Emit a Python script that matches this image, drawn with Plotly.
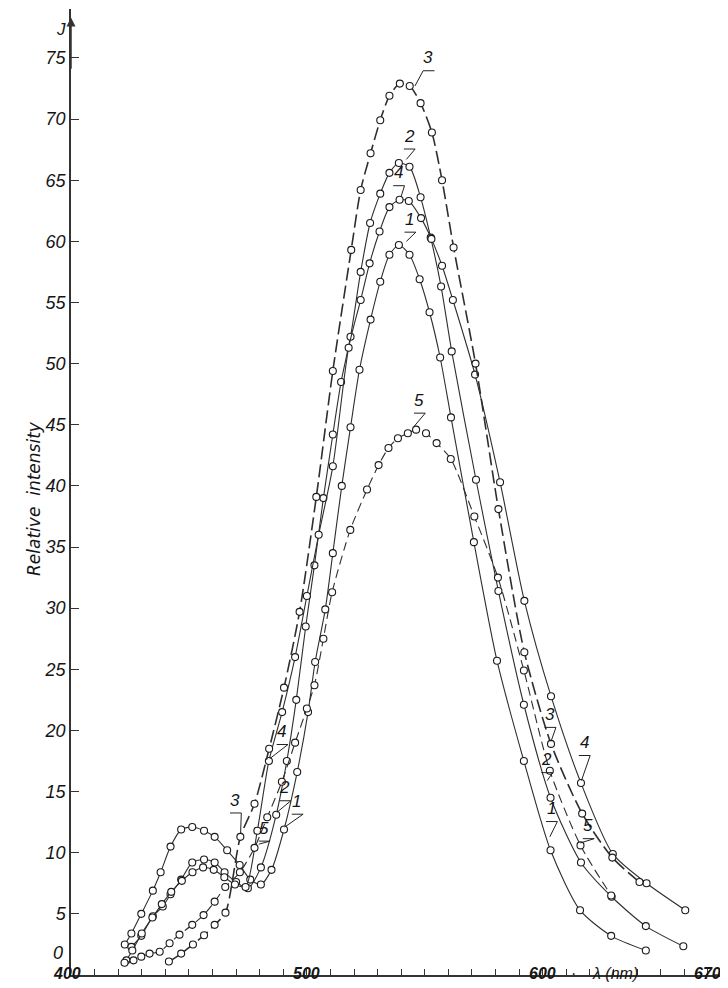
import plotly.graph_objects as go

# ---------------- data ----------------
s1_x = [422.8, 425.6, 429.8, 434.7, 438.0, 442.2, 446.7, 451.4, 456.4, 460.9, 466.2, 471.5, 476.0, 480.5,
        485.0, 490.3, 495.9, 500.5, 503.5, 507.8, 511.0, 514.8, 518.5, 522.3, 527.0, 531.1, 535.0, 539.0,
        543.5, 547.8, 552.0, 556.5, 561.1, 570.8, 580.6, 592.0, 603.3, 615.8, 629.0, 643.7]
s1_y = [2.5, 3.4, 5.0, 6.9, 8.4, 10.5, 11.9, 12.1, 11.8, 11.3, 10.2, 9.0, 7.8, 7.4,
        8.6, 11.9, 16.6, 21.5, 25.6, 29.9, 34.5, 40.0, 44.8, 49.5, 53.6, 56.7, 58.9, 59.7,
        58.9, 56.9, 54.2, 50.5, 45.6, 35.4, 25.7, 17.5, 10.2, 5.3, 3.2, 2.0]

s2_x = [425.6, 429.8, 434.7, 438.9, 442.2, 446.7, 451.4, 456.4, 460.9, 465.1, 470.0, 475.0, 480.5, 487.0,
        491.5, 495.5, 499.5, 503.2, 507.0, 511.0, 514.5, 518.5, 522.8, 526.8, 531.1, 535.0, 539.0, 543.5,
        548.2, 552.5, 556.9, 561.4, 571.7, 581.2, 592.0, 603.3, 616.2, 629.2, 643.7, 659.6]
s2_y = [2.3, 3.2, 4.8, 5.6, 6.6, 7.8, 9.2, 9.45, 9.2, 8.4, 7.6, 7.1, 8.8, 13.1,
        17.5, 22.5, 28.5, 33.5, 39.0, 44.2, 48.5, 52.2, 57.5, 61.5, 63.9, 65.6, 66.4, 66.1,
        63.6, 60.3, 56.3, 51.0, 40.5, 31.4, 22.1, 14.5, 9.2, 6.4, 4.0, 2.35]

s3_x = [441.5, 446.7, 451.7, 456.4, 460.9, 465.5, 471.8, 477.8, 484.0, 490.3, 496.9, 504.0, 511.0, 518.8,
        522.8, 527.0, 531.1, 535.0, 539.4, 543.6, 548.2, 553.0, 557.3, 562.2, 571.5, 581.2, 592.2, 603.5,
        616.7, 629.5, 641.0]
s3_y = [1.1, 1.75, 2.5, 3.25, 4.1, 5.1, 11.3, 14.0, 18.5, 23.5, 29.7, 39.1, 49.4, 59.3,
        64.2, 67.2, 69.9, 71.9, 72.9, 72.7, 71.3, 68.9, 65.0, 59.5, 50.0, 38.1, 26.4, 18.9,
        13.2, 9.6, 7.6]

s4_x = [423.5, 426.0, 430.0, 434.5, 438.5, 442.5, 447.0, 451.5, 456.0, 460.5, 465.0, 469.5, 474.0, 479.0,
        483.9, 489.5, 495.0, 500.0, 505.0, 511.0, 517.7, 522.8, 526.6, 530.8, 535.0, 539.3, 543.2, 548.4,
        552.8, 557.3, 561.9, 571.3, 581.9, 592.2, 603.5, 616.2, 629.7, 644.0, 660.4]
s4_y = [1.2, 2.0, 3.4, 4.7, 5.8, 6.8, 7.7, 8.4, 8.8, 8.6, 8.0, 7.4, 7.2, 11.8,
        17.5, 21.5, 26.0, 31.0, 36.0, 41.6, 51.3, 55.2, 58.2, 60.8, 62.8, 63.4, 63.3, 61.9,
        60.2, 58.0, 55.2, 49.1, 40.3, 30.6, 22.8, 15.7, 9.9, 7.5, 5.3]

s5_x = [422.7, 426.5, 429.8, 433.3, 437.6, 441.8, 446.0, 451.4, 456.2, 460.9, 465.4, 471.6, 477.8, 483.2,
        489.4, 495.0, 500.0, 503.2, 507.0, 510.7, 518.4, 525.5, 530.4, 534.6, 538.6, 542.8, 546.3, 550.5,
        555.0, 561.0, 571.0, 581.0, 592.0, 603.0, 616.0, 629.0]
s5_y = [1.0, 1.2, 1.5, 1.75, 1.9, 2.6, 3.3, 4.1, 4.9, 6.0, 7.2, 8.4, 10.4, 12.9,
        15.8, 19.0, 21.8, 23.7, 27.5, 31.3, 36.4, 39.7, 41.7, 43.1, 43.9, 44.3, 44.6, 44.3,
        43.5, 42.2, 37.5, 32.5, 24.9, 16.7, 10.6, 6.5]

x_tick_vals = list(range(400, 680, 10))
x_label_vals = [400, 500, 600, 670]
x_label_text = ["400", "500", "600", "670"]
y_tick_vals = list(range(0, 80, 5))
y_tick_text = [("" if v == 0 else str(v)) for v in y_tick_vals]

# curve labels: (text, label x, label y, pointer x, pointer y, side of bar the pointer meets)
curve_labels = [
    ("3", 551.5, 75.0, 545.8, 72.7, "l"), ("2", 543.3, 68.6, 542.2, 66.7, "r"),
    ("4", 538.8, 65.6, 540.0, 63.7, "r"), ("1", 543.6, 61.8, 542.2, 60.0, "r"),
    ("5", 547.6, 47.0, 545.6, 44.9, "r"),
    ("4", 489.4, 19.9, 484.3, 17.7, "r"), ("2", 490.6, 15.3, 487.3, 13.3, "r"),
    ("1", 495.8, 14.2, 490.6, 12.1, "r"), ("3", 469.6, 14.3, 471.9, 11.6, "r"),
    ("5", 481.8, 12.0, 479.6, 10.7, "r"),
    ("3", 603.0, 21.3, 603.5, 19.1, "r"), ("4", 617.5, 19.0, 616.4, 15.9, "r"),
    ("2", 601.6, 17.6, 601.9, 15.9, "r"), ("1", 603.6, 13.6, 603.0, 11.3, "r"),
    ("5", 619.2, 12.2, 616.0, 10.8, "r"),
]

FONT = "Liberation Sans Narrow, Liberation Sans, DejaVu Sans"
FONT_W = "Liberation Sans, DejaVu Sans"
LINE = "#2e2e2e"
INK = "#151515"
LABEL_ROW = -0.0095   # paper y of the x-axis label row (below the axis)

fig = go.Figure()

series = [
    (s1_x, s1_y, "solid", 1.1),
    (s2_x, s2_y, "solid", 1.1),
    (s4_x, s4_y, "solid", 1.1),
    (s5_x, s5_y, "9px,5px", 1.1),
    (s3_x, s3_y, "13px,5px", 1.6),
]
for xs, ys, dash, w in series:
    fig.add_trace(go.Scatter(
        x=xs, y=ys, mode="lines+markers",
        line=dict(color=LINE, width=w, dash=dash, shape="spline", smoothing=0.7),
        marker=dict(symbol="circle", size=7, color="white",
                    line=dict(color="#1a1a1a", width=1.1)),
        showlegend=False, hoverinfo="skip"))

annotations = []
shapes = []
for txt, tx, ty, px, py, side in curve_labels:
    annotations.append(dict(x=tx, y=ty, xref="x", yref="y", text=txt, showarrow=False,
                            font=dict(family=FONT, size=17, color=INK, style="italic")))
    bar_y = ty - 1.05
    x0, x1 = tx - 2.2, tx + 2.6
    end_x = x0 if side == "l" else x1
    other_x = x1 if side == "l" else x0
    shapes.append(dict(type="path", xref="x", yref="y",
                       path=f"M {px},{py} L {end_x},{bar_y} L {other_x},{bar_y}",
                       line=dict(color="#222", width=1)))

# axis arrows
annotations.append(dict(x=681.5, y=0, ax=672, ay=0, axref="x", ayref="y", xref="x", yref="y",
                        text="", showarrow=True, arrowhead=2, arrowsize=1.2, arrowwidth=1.5,
                        arrowcolor="#333"))
annotations.append(dict(x=400, y=78.3, ax=400, ay=74, axref="x", ayref="y", xref="x", yref="y",
                        text="", showarrow=True, arrowhead=2, arrowsize=1.2, arrowwidth=1.5,
                        arrowcolor="#333"))
annotations.append(dict(x=-0.026, y=77.3, xref="paper", yref="y", text="J", showarrow=False,
                        font=dict(family=FONT, size=17, color=INK, style="italic")))
annotations.append(dict(x=-0.0085, y=0.0105, xref="paper", yref="paper", text="0",
                        xanchor="right", showarrow=False,
                        font=dict(family=FONT, size=18, color=INK, style="italic")))
annotations.append(dict(x=-0.074, y=39.0, xref="paper", yref="y", text="Relative  intensity",
                        textangle=-90, showarrow=False,
                        font=dict(family="DejaVu Sans", size=17, color=INK, style="italic")))
annotations.append(dict(x=630.5, y=LABEL_ROW, xref="x", yref="paper", text="λ (nm)",
                        showarrow=False,
                        font=dict(family=FONT_W, size=16, color=INK, style="italic")))
annotations.append(dict(x=613, y=LABEL_ROW, xref="x", yref="paper", text="·", showarrow=False,
                        font=dict(family=FONT_W, size=16, color=INK)))
for v, t in zip(x_label_vals, x_label_text):
    annotations.append(dict(x=v, y=LABEL_ROW, xref="x", yref="paper", text=t, showarrow=False,
                            xshift=-4 if v == 400 else 0,
                            font=dict(family=FONT_W, size=16, color=INK, style="italic",
                                      weight="bold")))

fig.update_layout(
    width=728, height=988,
    margin=dict(l=63, r=1, t=1, b=21),
    paper_bgcolor="white", plot_bgcolor="white",
    annotations=annotations, shapes=shapes,
    xaxis=dict(range=[400, 681.5], showgrid=False, zeroline=False, showline=True,
               linecolor="#333", linewidth=1.5, ticks="inside", ticklen=6, tickwidth=1,
               tickcolor="#333", tickvals=x_tick_vals, showticklabels=False,
               automargin=False),
    yaxis=dict(range=[0, 79], showgrid=False, zeroline=False, showline=True,
               linecolor="#333", linewidth=1.5, ticks="inside", ticklen=8, tickwidth=1,
               tickcolor="#333", tickvals=y_tick_vals, ticktext=y_tick_text,
               tickfont=dict(family=FONT, size=18, color=INK, style="italic"),
               automargin=False),
)

fig.write_html("out.html")
